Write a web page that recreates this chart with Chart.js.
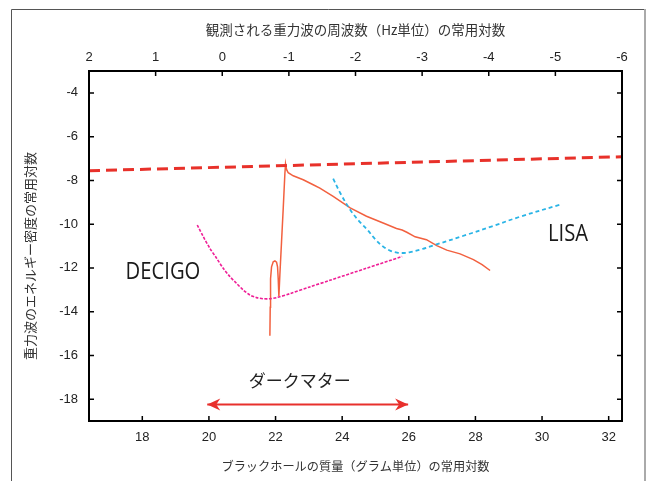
<!DOCTYPE html>
<html><head><meta charset="utf-8">
<script src="https://cdn.jsdelivr.net/npm/chart.js@4.4.1/dist/chart.umd.min.js"></script>
<style>html,body{margin:0;padding:0;background:#fff;overflow:hidden}#wrap{position:relative;width:648px;height:481px}</style>
</head><body><div id="wrap"><canvas id="c" width="648" height="481"></canvas></div>
<script>
// ---- axes ----
const massTicks = [18, 20, 22, 24, 26, 28, 30, 32];
const freqTicks = [2, 1, 0, -1, -2, -3, -4, -5, -6];
const energyTicks = [-18, -16, -14, -12, -10, -8, -6, -4];
const massRange = [16.4, 32.4];
const freqRange = [-6, 2];
const energyRange = [-19, -3];

// ---- series ----
const radiationX = [16.4, 32.4];
const radiationY = [-7.56, -6.92];

const decigoX = [19.65, 19.83, 20.03, 20.23, 20.43, 20.63, 20.83, 21.03, 21.23, 21.43, 21.63, 21.83, 22.03, 22.43, 23.03, 23.63, 24.7, 25.8];
const decigoY = [-10.04, -10.57, -11.11, -11.56, -12.02, -12.4, -12.71, -13.01, -13.24, -13.36, -13.41, -13.41, -13.36, -13.18, -12.87, -12.57, -12.03, -11.48];

const lisaX = [23.73, 23.95, 24.24, 24.5, 24.75, 25.0, 25.23, 25.45, 25.65, 25.85, 26.04, 26.4, 26.73, 27.75, 28.5, 29.34, 30.54];
const lisaY = [-7.92, -8.6, -9.34, -9.85, -10.25, -10.7, -11.03, -11.22, -11.3, -11.32, -11.28, -11.14, -10.98, -10.48, -10.1, -9.66, -9.11];

const pbhX = [21.83, 21.84, 21.85, 21.88, 21.93, 21.98, 22.03, 22.06, 22.08, 22.1, 22.13, 22.18, 22.23, 22.28, 22.3, 22.33, 22.38, 22.53, 22.83, 23.13, 23.33, 23.73, 24.24, 24.73, 25.23, 25.63, 25.8, 25.94, 26.19, 26.53, 26.84, 27.14, 27.54, 27.94, 28.2, 28.44];
const pbhY = [-15.1, -13.8, -12.5, -11.95, -11.72, -11.68, -11.74, -11.95, -12.5, -13.3, -12.3, -10.8, -9.3, -7.7, -7.25, -7.5, -7.65, -7.79, -7.97, -8.2, -8.35, -8.73, -9.26, -9.64, -9.95, -10.2, -10.27, -10.37, -10.58, -10.71, -10.98, -11.19, -11.36, -11.62, -11.85, -12.12];

const darkMatterX = [19.95, 25.98];
const darkMatterY = [-18.25, -18.25];

// ---- labels ----
const labelText = ['DECIGO', 'LISA', 'ダークマター'];
const labelX = [18.62, 30.78, 22.73];
const labelY = [-12.23, -10.45, -17.17];

const topTitle = '観測される重力波の周波数（Hz単位）の常用対数';
const bottomTitle = 'ブラックホールの質量（グラム単位）の常用対数';
const leftTitle = '重力波のエネルギー密度の常用対数';

const zip = (xs, ys) => xs.map((x, i) => ({x, y: ys[i]}));

const tickFont = {family: "'Liberation Sans', Arial, sans-serif", size: 13};
const jpFont = "'Noto Sans CJK JP', 'Noto Sans', sans-serif";

const deco = {
  id: 'deco',
  beforeDraw(chart) {
    const ctx = chart.ctx;
    ctx.save();
    ctx.strokeStyle = '#555';
    ctx.lineWidth = 1;
    ctx.beginPath();
    ctx.moveTo(11.5, 481); ctx.lineTo(11.5, 9.5); ctx.lineTo(645, 9.5);
    ctx.stroke();
    ctx.strokeStyle = '#aaa';
    ctx.lineWidth = 2;
    ctx.beginPath();
    ctx.moveTo(645, 9); ctx.lineTo(645, 481);
    ctx.stroke();
    ctx.restore();
  },
  afterDatasetsDraw(chart) {
    const ctx = chart.ctx;
    const a = chart.chartArea;
    const sx = chart.scales.x, sx2 = chart.scales.x2, sy = chart.scales.y;
    ctx.save();
    // left axis title
    ctx.save();
    ctx.fillStyle = '#333';
    ctx.font = "13px " + jpFont;
    ctx.textAlign = 'center';
    ctx.textBaseline = 'middle';
    ctx.translate(30, (a.top + a.bottom) / 2 + 10);
    ctx.rotate(-Math.PI / 2);
    ctx.fillText(leftTitle, 0, 0);
    ctx.restore();
    // arrowheads
    const ay = sy.getPixelForValue(darkMatterY[0]);
    const axL = sx.getPixelForValue(darkMatterX[0]);
    const axR = sx.getPixelForValue(darkMatterX[1]);
    ctx.fillStyle = '#e8302c';
    [[axL, 1], [axR, -1]].forEach(([tx, d]) => {
      ctx.beginPath();
      ctx.moveTo(tx, ay);
      ctx.lineTo(tx + d * 13, ay - 6);
      ctx.lineTo(tx + d * 9, ay);
      ctx.lineTo(tx + d * 13, ay + 6);
      ctx.closePath();
      ctx.fill();
    });
    // labels
    ctx.fillStyle = '#1a1a1a';
    ctx.textAlign = 'center';
    ctx.textBaseline = 'middle';
    labelText.forEach((t, i) => {
      const px = sx.getPixelForValue(labelX[i]);
      const py = sy.getPixelForValue(labelY[i]);
      ctx.save();
      if (i < 2) {
        ctx.font = "23px 'Open Sans', 'Noto Sans', sans-serif";
        ctx.translate(px, py);
        ctx.scale(0.88, 1);
        ctx.fillText(t, 0, 0);
      } else {
        ctx.font = "17px " + jpFont;
        ctx.fillStyle = '#222';
        ctx.fillText(t, px, py);
      }
      ctx.restore();
    });
    // frame
    ctx.strokeStyle = '#000';
    ctx.lineWidth = 2;
    ctx.strokeRect(a.left, a.top, a.right - a.left, a.bottom - a.top);
    // inward ticks
    ctx.lineWidth = 1.5;
    ctx.beginPath();
    massTicks.forEach(v => { const p = sx.getPixelForValue(v); ctx.moveTo(p, a.bottom); ctx.lineTo(p, a.bottom - 5); });
    freqTicks.forEach(v => { const p = sx2.getPixelForValue(v); ctx.moveTo(p, a.top); ctx.lineTo(p, a.top + 5); });
    energyTicks.forEach(v => { const p = sy.getPixelForValue(v); ctx.moveTo(a.left, p); ctx.lineTo(a.left + 5, p); ctx.moveTo(a.right, p); ctx.lineTo(a.right - 5, p); });
    ctx.stroke();
    ctx.restore();
  }
};

new Chart(document.getElementById('c'), {
  type: 'line',
  data: {
    datasets: [
      {label: 'radiation', data: zip(radiationX, radiationY), borderColor: '#e8312a', borderWidth: 3, borderDash: [11, 6], pointRadius: 0, tension: 0},
      {label: 'LISA', data: zip(lisaX, lisaY), borderColor: '#2ab4e6', borderWidth: 1.8, borderDash: [4, 3], pointRadius: 0, tension: 0.35},
      {label: 'DECIGO', data: zip(decigoX, decigoY), borderColor: '#ef1f96', borderWidth: 1.6, borderDash: [3, 1.5], pointRadius: 0, tension: 0.3},
      {label: 'PBH', data: zip(pbhX, pbhY), borderColor: '#f2603f', borderWidth: 1.5, pointRadius: 0, tension: 0},
      {label: 'dark matter', data: zip(darkMatterX, darkMatterY), borderColor: '#e8302c', borderWidth: 2, pointRadius: 0, tension: 0}
    ]
  },
  options: {
    responsive: false,
    animation: false,
    devicePixelRatio: 1,
    layout: {padding: {left: 12, top: 12, right: 26, bottom: 0}},
    plugins: {legend: {display: false}, tooltip: {enabled: false}},
    scales: {
      x: {
        type: 'linear', position: 'bottom', min: massRange[0], max: massRange[1],
        afterBuildTicks: s => { s.ticks = massTicks.map(v => ({value: v})); },
        afterFit: s => { s.height = 60; },
        grid: {display: false, drawTicks: false}, border: {display: false},
        ticks: {font: tickFont, color: '#222', padding: 9, maxRotation: 0, autoSkip: false},
        title: {display: true, text: bottomTitle, color: '#333', font: {family: jpFont, size: 12.2}, padding: {top: 0, bottom: 7}}
      },
      x2: {
        type: 'linear', position: 'top', min: freqRange[0], max: freqRange[1], reverse: true,
        afterBuildTicks: s => { s.ticks = freqTicks.map(v => ({value: v})); },
        afterFit: s => { s.height = 59; },
        grid: {display: false, drawTicks: false}, border: {display: false},
        ticks: {font: tickFont, color: '#222', padding: 6, maxRotation: 0, autoSkip: false},
        title: {display: true, text: topTitle, color: '#333', font: {family: jpFont, size: 13.5}, padding: {top: 10, bottom: 0}}
      },
      y: {
        type: 'linear', position: 'left', min: energyRange[0], max: energyRange[1],
        afterBuildTicks: s => { s.ticks = energyTicks.map(v => ({value: v})); },
        afterFit: s => { s.width = 77; },
        grid: {display: false, drawTicks: false}, border: {display: false},
        ticks: {font: tickFont, color: '#222', padding: 11, autoSkip: false},
        title: {display: false}
      }
    }
  },
  plugins: [deco]
});
</script>
</body></html>
